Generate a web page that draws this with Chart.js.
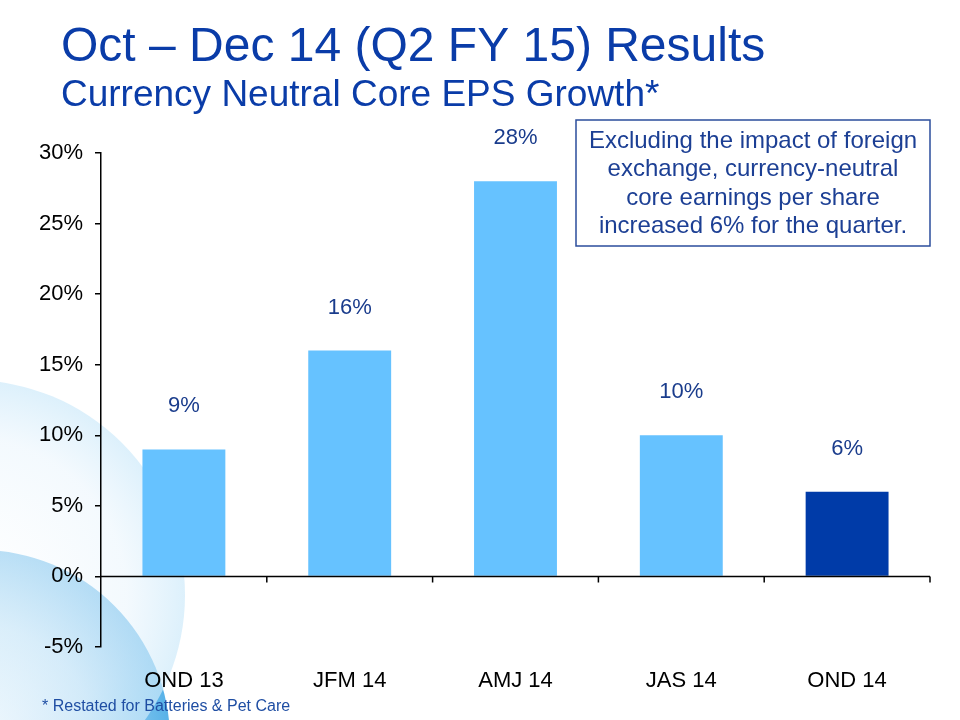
<!DOCTYPE html>
<html lang="en">
<head>
    <meta charset="UTF-8">
    <title>Currency Neutral Core EPS Growth</title>
    <script src="https://cdn.jsdelivr.net/npm/chart.js"></script>
    <style>
        body { margin: 0; background: #fff; }
        canvas { display: block; }
    </style>
</head>
<body>
    <canvas id="myChart" width="960" height="720"></canvas>
    <script>
            const quarters = ['OND 13', 'JFM 14', 'AMJ 14', 'JAS 14', 'OND 14'];
            const epsGrowth = [9, 16, 28, 10, 6];
            const barColors = ['#66c2ff', '#66c2ff', '#66c2ff', '#66c2ff', '#003ba8'];
            const yTicks = { min: -5, max: 30, step: 5 };

            const titleText = 'Oct \u2013 Dec 14 (Q2 FY 15) Results';
            const subtitleText = 'Currency Neutral Core EPS Growth*';
            const noteLines = [
                'Excluding the impact of foreign',
                'exchange, currency-neutral',
                'core earnings per share',
                'increased 6% for the quarter.'
            ];
            const footnote = '* Restated for Batteries & Pet Care';

            const FONT = '"Liberation Sans", Arial, sans-serif';

            // background circles, titles, text box
            const slideDecor = {
                id: 'slideDecor',
                beforeDraw(chart) {
                    const c = chart.ctx;
                    c.save();
                    c.fillStyle = '#fff';
                    c.fillRect(0, 0, chart.width, chart.height);

                    let g = c.createRadialGradient(-20, 740, 20, -20, 740, 190);
                    g.addColorStop(0, '#e4f3fc');
                    g.addColorStop(0.55, '#a9d8f4');
                    g.addColorStop(1, '#58b2e8');
                    c.fillStyle = g;
                    c.beginPath();
                    c.arc(-20, 740, 190, 0, Math.PI * 2);
                    c.fill();

                    g = c.createRadialGradient(-30, 595, 20, -30, 595, 215);
                    g.addColorStop(0, 'rgba(255,255,255,0.6)');
                    g.addColorStop(0.7, 'rgba(236,246,253,0.6)');
                    g.addColorStop(1, 'rgba(206,234,250,0.7)');
                    c.fillStyle = g;
                    c.beginPath();
                    c.arc(-30, 595, 215, 0, Math.PI * 2);
                    c.fill();

                    c.fillStyle = '#0a3ca8';
                    c.textAlign = 'left';
                    c.textBaseline = 'alphabetic';
                    c.font = '48px ' + FONT;
                    c.fillText(titleText, 61, 61);
                    c.font = '37px ' + FONT;
                    c.fillText(subtitleText, 61, 106);

                    c.fillStyle = '#1f4ea3';
                    c.font = '16px ' + FONT;
                    c.fillText(footnote, 42, 711);
                    c.restore();
                },
                afterDraw(chart) {
                    const c = chart.ctx;
                    c.save();
                    c.fillStyle = '#fff';
                    c.fillRect(576, 120, 354, 126);
                    c.strokeStyle = '#2b4d9c';
                    c.lineWidth = 1.5;
                    c.strokeRect(576, 120, 354, 126);
                    c.fillStyle = '#1c3f94';
                    c.font = '24px ' + FONT;
                    c.textAlign = 'center';
                    c.textBaseline = 'middle';
                    noteLines.forEach((t, i) => c.fillText(t, 753, 141 + i * 28.5));
                    c.restore();
                }
            };

            // zero line with category tick marks, and value labels
            const zeroAxis = {
                id: 'zeroAxis',
                afterDatasetsDraw(chart) {
                    const c = chart.ctx;
                    const area = chart.chartArea;
                    const xs = chart.scales.x;
                    const y0 = chart.scales.y.getPixelForValue(0);
                    c.save();
                    c.strokeStyle = '#000';
                    c.lineWidth = 1.5;
                    c.beginPath();
                    c.moveTo(area.left, y0);
                    c.lineTo(area.right, y0);
                    const n = quarters.length;
                    for (let i = 1; i <= n; i++) {
                        const x = i === n ? area.right : (xs.getPixelForValue(i - 1) + xs.getPixelForValue(i)) / 2;
                        c.moveTo(x, y0);
                        c.lineTo(x, y0 + 6);
                    }
                    c.stroke();

                    c.fillStyle = '#1a3c8c';
                    c.font = '22px ' + FONT;
                    c.textAlign = 'center';
                    c.textBaseline = 'middle';
                    chart.getDatasetMeta(0).data.forEach((bar, i) => {
                        c.fillText(epsGrowth[i] + '%', bar.x, bar.y - 43);
                    });
                    c.restore();
                }
            };

            const ctx = document.getElementById('myChart').getContext('2d');
            const myChart = new Chart(ctx, {
                type: 'bar',
                data: {
                    labels: quarters,
                    datasets: [{
                        label: 'Core EPS growth',
                        data: epsGrowth,
                        backgroundColor: barColors,
                        borderWidth: 0,
                        barPercentage: 0.5,
                        categoryPercentage: 1
                    }]
                },
                options: {
                    responsive: false,
                    animation: false,
                    layout: {
                        padding: { top: 153, right: 30, bottom: 0, left: 0 }
                    },
                    scales: {
                        x: {
                            grid: { display: false, drawTicks: false },
                            border: { display: false },
                            ticks: {
                                color: '#000',
                                padding: 21,
                                font: { family: FONT, size: 22 }
                            },
                            afterFit(scale) { scale.height = 73; }
                        },
                        y: {
                            min: yTicks.min,
                            max: yTicks.max,
                            grid: {
                                drawOnChartArea: false,
                                drawTicks: true,
                                tickLength: 6,
                                color: '#000',
                                lineWidth: 1.5
                            },
                            border: { color: '#000', width: 1.5 },
                            ticks: {
                                stepSize: yTicks.step,
                                color: '#000',
                                padding: 12,
                                font: { family: FONT, size: 22 },
                                callback: (v) => v + '%'
                            },
                            afterFit(scale) { scale.width = 101; }
                        }
                    },
                    plugins: {
                        legend: { display: false },
                        tooltip: { enabled: false }
                    }
                },
                plugins: [slideDecor, zeroAxis]
            });
    </script>
</body>
</html>
